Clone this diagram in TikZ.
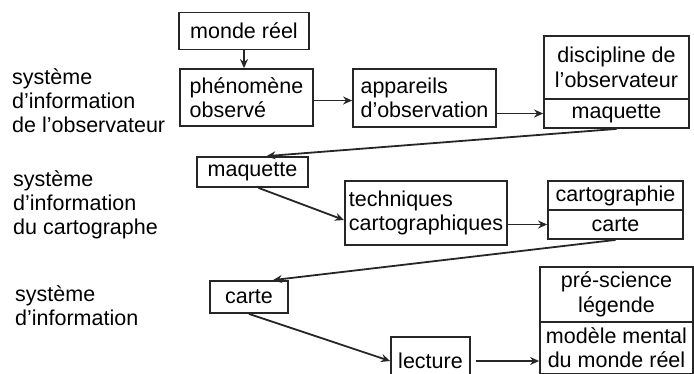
\documentclass[tikz,border=0pt]{standalone}
\usepackage{fontspec}
\setmainfont{Liberation Sans}
\usetikzlibrary{arrows.meta, positioning}

\begin{document}
\begin{tikzpicture}[
    x=1pt, y=-1pt,
    box/.style={rectangle, draw=black!85, line width=1.8pt,
                inner xsep=4pt, inner ysep=3pt, align=center,
                font=\fontsize{21.5}{24.5}\selectfont},
    boxl/.style={box, align=left},
    sysname/.style={anchor=west, inner sep=0pt, align=left,
                font=\fontsize{21.5}{24}\selectfont},
    arrow/.style={-{Stealth[length=9pt, width=8pt]}, line width=1.8pt, black!85}
]
    \useasboundingbox (0,0) rectangle (694,373);
    \clip (0,0) rectangle (694,373);

    % Systems
    \node[sysname] (sys-obs) at (12,101) {système\\d'information\\de l'observateur};
    \node[sysname] (sys-carto) at (13,205) {système\\d'information\\du cartographe};
    \node[sysname] (sys-lect) at (15,306) {système\\d'information};

    % Observer
    \node[box, minimum width=130pt, minimum height=37pt] (monde) at (244,31) {monde réel};
    \node[boxl, minimum width=133pt, minimum height=57pt] (phen) at (246.5,97.5) {phénomène\\observé};
    \node[boxl, minimum width=143pt, minimum height=58pt] (app) at (424.5,98) {appareils\\d'observation};
    \node[box, minimum width=145pt, minimum height=63pt] (disc) at (616.5,67.5) {discipline de\\l'observateur};
    \node[box, minimum width=145pt, minimum height=29pt, below=-1.8pt of disc] (maq-obs) {maquette};

    % Cartographer
    \node[box, minimum width=111pt, minimum height=30pt] (maq-carto) at (252.5,172) {maquette};
    \node[boxl, minimum width=162pt, minimum height=64pt] (tech) at (426,213) {techniques\\cartographiques};
    \node[box, minimum width=135pt, minimum height=29pt] (carto) at (615.5,195.5) {cartographie};
    \node[box, minimum width=135pt, minimum height=29pt, below=-1.8pt of carto] (carte-carto) {carte};

    % Reader
    \node[box, minimum width=78pt, minimum height=32pt] (carte-lect) at (249,297) {carte};
    \node[box, minimum width=79pt, minimum height=48pt] (lecture) at (430.5,361) {lecture};
    \node[box, minimum width=153pt, minimum height=55pt] (presci) at (616.5,294.5) {pré-science\\légende};
    \node[box, minimum width=153pt, minimum height=52pt, font=\fontsize{21.5}{24}\selectfont,
          below=-1.8pt of presci] (modele) {modèle mental\\du monde réel};

    % Arrows
    \draw[arrow] (monde.south) -- (monde.south |- phen.north);
    \draw[arrow] ([yshift=-3pt]phen.east) -- ([yshift=-3pt]phen.east -| app.west);
    \draw[arrow] (app.east |- maq-obs.west) -- (maq-obs.west);
    \draw[arrow] (maq-obs.south) -- ([xshift=14pt]maq-carto.north);
    \draw[arrow] ([xshift=6pt]maq-carto.south) -- ([yshift=-7pt]tech.west);
    \draw[arrow] (tech.east |- carte-carto.west) -- (carte-carto.west);
    \draw[arrow] (carte-carto.south) -- ([xshift=24pt]carte-lect.north);
    \draw[arrow] (carte-lect.south) -- (lecture.west);
    \draw[arrow, shorten <=5pt] (lecture.east) -- (lecture.east -| modele.west);
\end{tikzpicture}
\end{document}
